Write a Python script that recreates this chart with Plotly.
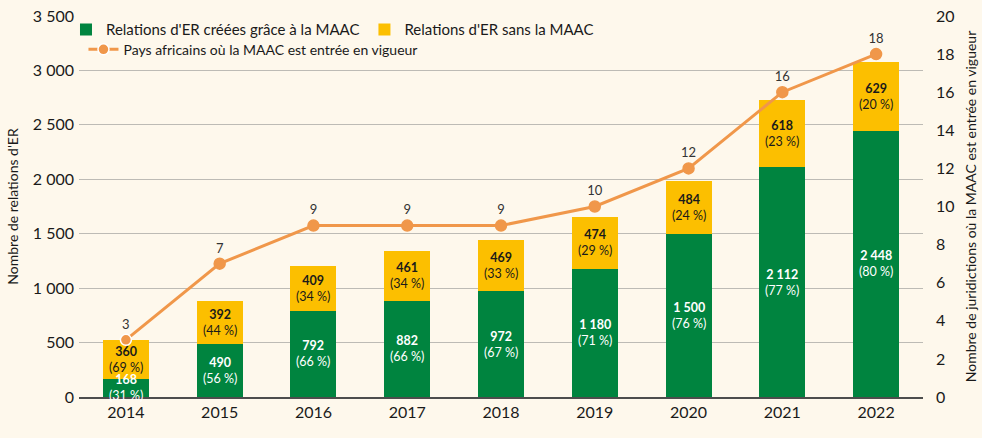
import plotly.graph_objects as go

years = ["2014", "2015", "2016", "2017", "2018", "2019", "2020", "2021", "2022"]
with_maac = [168, 490, 792, 882, 972, 1180, 1500, 2112, 2448]
with_maac_pct = [31, 56, 66, 66, 67, 71, 76, 77, 80]
without_maac = [360, 392, 409, 461, 469, 474, 484, 618, 629]
without_maac_pct = [69, 44, 34, 34, 33, 29, 24, 23, 20]
countries = [3, 7, 9, 9, 9, 10, 12, 16, 18]

GREEN = "#00843F"
YELLOW = "#FCBF00"
ORANGE = "#F0974A"
BG = "#FEF8EC"
FONT = "Lato"


def fmt(v):
    return f"{v:,}".replace(",", " ")


fig = go.Figure()
fig.add_trace(go.Bar(x=years, y=with_maac, name="Relations d'ER créées grâce à la MAAC",
                     marker=dict(color=GREEN, line=dict(width=0)), width=0.49,
                     legend="legend", hoverinfo="y"))
fig.add_trace(go.Bar(x=years, y=without_maac, name="Relations d'ER sans la MAAC",
                     marker=dict(color=YELLOW, line=dict(width=0)), width=0.49,
                     legend="legend", hoverinfo="y"))
fig.add_trace(go.Scatter(x=years, y=countries, yaxis="y2", name="Pays africains où la MAAC est entrée en vigueur",
                         mode="lines+markers+text", text=[str(c) for c in countries],
                         textposition="top center", textfont=dict(size=13, color="#333333", family=FONT),
                         line=dict(color=ORANGE, width=3),
                         marker=dict(size=11, color=ORANGE,
                                     line=dict(color=["white"] + [ORANGE] * (len(years) - 1), width=1.5)),
                         legend="legend2", cliponaxis=False))

annotations = []
for i, y in enumerate(years):
    g = with_maac[i]
    yv = without_maac[i]
    for yc, val, pct, col in ((g / 2, g, with_maac_pct[i], "white"),
                              (g + yv / 2, yv, without_maac_pct[i], "#1a1a1a")):
        annotations.append(dict(x=i, y=yc, xref="x", yref="y", showarrow=False,
                                text=f"<b>{fmt(val)}</b><br>({pct} %)", align="center",
                                borderpad=0,
                                font=dict(size=12.5, color=col, family=FONT)))

fig.update_layout(
    width=982, height=438,
    barmode="stack",
    paper_bgcolor=BG, plot_bgcolor=BG,
    margin=dict(l=79, r=59, t=16, b=41, autoexpand=False),
    font=dict(family=FONT, size=14, color="#1a1a1a"),
    separators=", ",
    showlegend=True,
    legend=dict(orientation="h", xref="container", yref="container", x=0.0672, y=0.97,
                xanchor="left", yanchor="top",
                bgcolor="rgba(0,0,0,0)", font=dict(size=15, family=FONT), traceorder="normal"),
    legend2=dict(orientation="h", xref="container", yref="container", x=0.085, y=0.923,
                 xanchor="left", yanchor="top",
                 bgcolor="rgba(0,0,0,0)", font=dict(size=14, family=FONT)),
    xaxis=dict(type="category", range=[-0.5, 8.5], showgrid=False, showline=True,
               linecolor="#4d4d4d", linewidth=1.5, ticks="", tickfont=dict(size=16)),
    yaxis=dict(range=[0, 3500], dtick=500, tickformat=",d", showgrid=True, gridcolor="#BDBBB5",
               gridwidth=1.2, zeroline=False, showline=False, ticks="", tickfont=dict(size=16),
               automargin=False, ticklabelstandoff=4,
               title=dict(text="Nombre de relations d'ER", font=dict(size=14), standoff=10)),
    yaxis2=dict(range=[0, 20], dtick=2, overlaying="y", side="right", showgrid=False,
                zeroline=False, showline=False, ticks="", tickfont=dict(size=16), automargin=False,
                ticklabelstandoff=12,
                title=dict(text="Nombre de juridictions où la MAAC est entrée en vigueur",
                           font=dict(size=14), standoff=12)),
    annotations=annotations,
)

fig.write_html("out.html", config={"displayModeBar": False},
               post_script="document.body.style.margin='0';")
